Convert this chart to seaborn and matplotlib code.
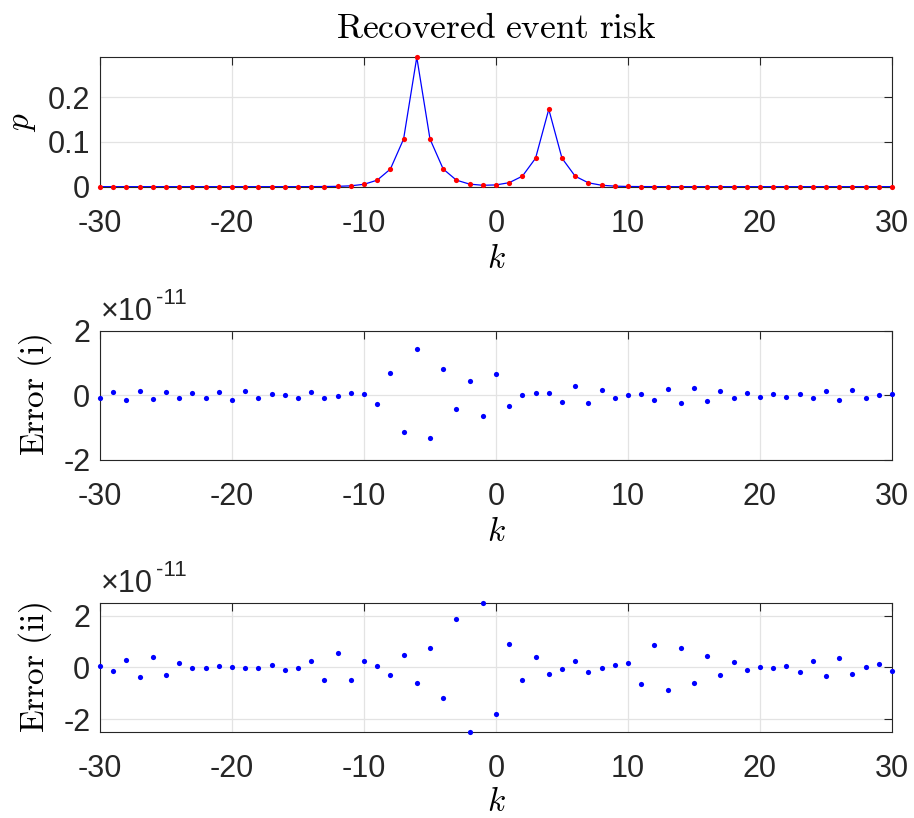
import numpy as np
import pandas as pd
import matplotlib
matplotlib.use("Agg")
import matplotlib.pyplot as plt
import seaborn as sns
from matplotlib.transforms import offset_copy

# data
k = list(range(-30, 31))

risk = [0.0] * 16 + [
    0.0001, 0.0003, 0.0007, 0.0019, 0.0053, 0.0145, 0.0394, 0.1065, 0.2895,
    0.1066, 0.0395, 0.0146, 0.0057, 0.0031, 0.0039, 0.0089, 0.0235, 0.0637,
    0.1731, 0.0637, 0.0234, 0.0086, 0.0032, 0.0012, 0.0004, 0.0002, 0.0001,
] + [0.0] * 18

# errors in units of 1e-11
err_i = [
    -0.07, 0.10, -0.13, 0.13, -0.12, 0.09, -0.08, 0.07, -0.08, 0.11, -0.14,
    0.12, -0.09, 0.04, 0.01, -0.07, 0.11, -0.08, -0.01, 0.07, 0.03,
    -0.28, 0.68, -1.14, 1.44, -1.31, 0.82, -0.42, 0.43, -0.65, 0.65,
    -0.33, 0.0, 0.07, 0.08, -0.22, 0.28, -0.23, 0.17, -0.09, 0.02,
    0.05, -0.13, 0.20, -0.23, 0.22, -0.18, 0.12, -0.07, 0.06, -0.05,
    0.04, -0.04, 0.05, -0.08, 0.12, -0.16, 0.16, -0.09, 0.01, 0.05,
]
err_ii = [
    0.07, -0.13, 0.27, -0.39, 0.39, -0.28, 0.16, -0.04, -0.04, 0.04, 0.0,
    -0.03, -0.01, 0.08, -0.10, -0.03, 0.26, -0.47, 0.54, -0.47, 0.25,
    0.05, -0.30, 0.48, -0.59, 0.77, -1.20, 1.88, -2.49, 2.50, -1.80,
    0.92, -0.48, 0.39, -0.25, -0.05, 0.23, -0.18, -0.04, 0.08, 0.18,
    -0.63, 0.88, -0.88, 0.75, -0.62, 0.45, -0.31, 0.19, -0.10, 0.01,
    -0.01, 0.05, -0.16, 0.26, -0.35, 0.35, -0.26, 0.03, 0.13, -0.13,
]

x_ticks = [-30, -20, -10, 0, 10, 20, 30]

df = pd.DataFrame({"k": k, "risk": risk, "err_i": err_i, "err_ii": err_ii})

sns.set_style("white")
plt.rcParams["font.family"] = ["Liberation Sans", "DejaVu Sans"]
plt.rcParams["mathtext.fontset"] = "cm"
plt.rcParams["axes.unicode_minus"] = False

fig = plt.figure(figsize=(9.14, 8.18), dpi=100)
ax1 = fig.add_axes([0.1094, 0.7718, 0.8665, 0.1582])
ax2 = fig.add_axes([0.1094, 0.4377, 0.8665, 0.1581])
ax3 = fig.add_axes([0.1094, 0.1055, 0.8665, 0.1577])

sns.lineplot(data=df, x="k", y="risk", ax=ax1, color="#0000ff", lw=0.9, zorder=3)
sns.scatterplot(data=df, x="k", y="risk", ax=ax1, color="#ff0000", s=14,
                linewidth=0, zorder=4, clip_on=False)
sns.scatterplot(data=df, x="k", y="err_i", ax=ax2, color="#0000ff", s=14,
                linewidth=0, zorder=4, clip_on=False)
sns.scatterplot(data=df, x="k", y="err_ii", ax=ax3, color="#0000ff", s=14,
                linewidth=0, zorder=4, clip_on=False)

ax1.set_ylim(0, 0.2895)
ax1.set_yticks([0, 0.1, 0.2])
ax1.set_yticklabels(["0", "0.1", "0.2"])
ax2.set_ylim(-2, 2)
ax2.set_yticks([-2, 0, 2])
ax3.set_ylim(-2.49, 2.505)
ax3.set_yticks([-2, 0, 2])

ylabels = [r"$p$", r"$\mathrm{Error\ (i)}$", r"$\mathrm{Error\ (ii)}$"]
ylab_x = [-0.078, -0.058, -0.058]

for ax, yl, yx in zip([ax1, ax2, ax3], ylabels, ylab_x):
    ax.set_xlim(-30, 30)
    ax.set_xticks(x_ticks)
    ax.grid(True, color="#e3e3e3", lw=0.9)
    ax.set_axisbelow(True)
    ax.tick_params(direction="in", length=6, width=0.8, colors="#262626",
                   labelsize=22, top=True, right=True)
    ax.tick_params(axis="x", pad=16)
    ax.tick_params(axis="y", pad=7)
    for s in ax.spines.values():
        s.set_visible(True)
        s.set_color("#262626")
        s.set_linewidth(0.8)
    ax.set_xlabel(r"$k$", fontsize=24, color="black")
    ax.xaxis.set_label_coords(0.5, -0.44)
    ax.set_ylabel(yl, fontsize=24, color="black")
    ax.yaxis.set_label_coords(yx, 0.5)

ax3.xaxis.set_label_coords(0.5, -0.425)

ax1.set_title(r"$\mathrm{Recovered\ event\ risk}$", fontsize=25.5,
              color="black", pad=14)

# exponent labels like matlab
for ax in [ax2, ax3]:
    t1 = offset_copy(ax.transAxes, fig=fig, x=1, y=8, units="points")
    ax.text(0.0, 1.0, "\u00d710", transform=t1, fontsize=22, color="#262626",
            ha="left", va="baseline")
    t2 = offset_copy(ax.transAxes, fig=fig, x=40, y=19, units="points")
    ax.text(0.0, 1.0, "-11", transform=t2, fontsize=16, color="#262626",
            ha="left", va="baseline")

fig.savefig("out.png", dpi=100)
plt.close(fig)
